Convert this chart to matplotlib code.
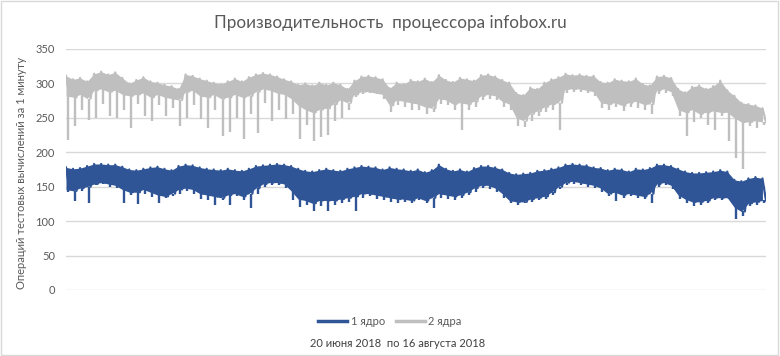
import numpy as np
import matplotlib
matplotlib.use('Agg')
import matplotlib.pyplot as plt
from matplotlib.patches import Rectangle

plt.rcParams['font.family'] = ['Lato', 'DejaVu Sans']

# 2 cores, read per sample group: top of band, bottom of solid band, lowest drop
two_hi = [311, 306, 308, 303, 314, 317, 313, 316, 308, 300,
          305, 309, 303, 301, 298, 296, 292, 313, 311, 307,
          304, 301, 299, 303, 307, 303, 309, 313, 315, 313,
          310, 306, 303, 298, 300, 297, 301, 298, 301, 298,
          292, 304, 310, 311, 309, 306, 293, 301, 299, 305,
          303, 307, 302, 312, 305, 302, 308, 306, 304, 312,
          313, 310, 305, 301, 286, 283, 294, 292, 301, 306,
          309, 314, 312, 313, 311, 311, 302, 301, 306, 304,
          303, 307, 299, 297, 310, 311, 308, 292, 287, 295,
          297, 292, 296, 304, 290, 282, 272, 270, 268, 264]
two_lo = [282, 280, 284, 278, 290, 292, 288, 290, 284, 282,
          284, 286, 280, 284, 280, 278, 276, 288, 290, 282,
          280, 284, 278, 280, 284, 280, 282, 288, 292, 290,
          286, 284, 278, 268, 262, 258, 262, 264, 270, 276,
          272, 284, 288, 288, 286, 284, 268, 276, 274, 272,
          270, 266, 264, 278, 276, 270, 272, 270, 274, 282,
          284, 282, 274, 270, 250, 246, 256, 260, 266, 270,
          272, 292, 292, 292, 290, 288, 272, 270, 272, 268,
          272, 274, 270, 270, 290, 292, 288, 262, 258, 262,
          256, 258, 260, 258, 258, 250, 244, 244, 246, 244]
two_min = [218, 238, 262, 247, 250, 270, 252, 250, 262, 235,
           270, 252, 245, 268, 252, 265, 238, 250, 268, 248,
           235, 262, 223, 230, 250, 220, 255, 228, 272, 245,
           262, 248, 255, 220, 240, 216, 222, 225, 245, 250,
           262, 280, 284, 286, 284, 278, 258, 268, 266, 262,
           262, 256, 258, 270, 268, 262, 232, 262, 266, 276,
           278, 276, 266, 262, 238, 236, 246, 252, 258, 262,
           233, 286, 288, 288, 286, 282, 264, 262, 266, 260,
           266, 264, 262, 255, 284, 286, 282, 252, 223, 244,
           250, 240, 233, 252, 216, 191, 176, 238, 235, 240]

# 1 core
one_hi = [178, 176, 177, 180, 183, 183, 182, 182, 179, 175,
          174, 176, 178, 179, 176, 174, 180, 182, 181, 178,
          176, 175, 174, 176, 174, 173, 176, 180, 181, 182,
          183, 182, 180, 176, 173, 172, 174, 176, 174, 173,
          176, 178, 180, 179, 178, 175, 178, 176, 175, 173,
          175, 171, 174, 182, 176, 173, 175, 172, 177, 180,
          180, 178, 175, 170, 168, 169, 170, 173, 174, 176,
          178, 182, 183, 182, 181, 178, 177, 174, 176, 175,
          172, 176, 175, 177, 182, 182, 180, 176, 172, 170,
          170, 171, 172, 174, 172, 160, 158, 162, 164, 162]
one_lo = [146, 144, 148, 150, 154, 156, 154, 152, 146, 142,
          142, 146, 142, 138, 136, 140, 146, 148, 146, 140,
          138, 136, 134, 138, 140, 136, 140, 148, 154, 156,
          156, 154, 144, 132, 130, 126, 130, 130, 130, 132,
          134, 136, 140, 140, 138, 136, 134, 132, 132, 130,
          134, 130, 134, 140, 138, 136, 138, 142, 148, 152,
          152, 148, 140, 130, 128, 128, 132, 134, 136, 142,
          150, 156, 158, 156, 154, 152, 148, 140, 142, 138,
          140, 138, 136, 140, 154, 156, 152, 138, 132, 128,
          128, 130, 134, 134, 134, 120, 114, 126, 128, 130]
one_min = [143, 129, 144, 127, 152, 154, 150, 148, 126, 138,
           125, 140, 135, 127, 134, 136, 140, 144, 140, 132,
           130, 124, 130, 124, 136, 130, 119, 140, 150, 152,
           152, 148, 130, 120, 124, 114, 122, 114, 124, 126,
           128, 115, 134, 136, 132, 130, 128, 126, 128, 126,
           130, 126, 119, 134, 132, 130, 134, 138, 142, 148,
           146, 142, 134, 126, 124, 126, 128, 130, 132, 138,
           146, 152, 154, 152, 150, 148, 142, 136, 129, 134,
           136, 134, 132, 126, 150, 152, 146, 132, 126, 122,
           124, 126, 130, 130, 132, 103, 108, 122, 124, 126]

names = ['1 ядро', '2 ядра']
colors = ['#2F5597', '#BFBFBF']

fig = plt.figure(figsize=(7.8, 3.56), dpi=100)
ax = fig.add_axes([0.0846, 0.1854, 0.8974, 0.677])

x = np.arange(len(two_hi))
series = [(one_hi, one_lo, one_min, names[0], colors[0]),
          (two_hi, two_lo, two_min, names[1], colors[1])]
for hi, lo, mn, name, col in series:
    ax.fill_between(x, lo, hi, color=col, lw=0)
    xs = np.column_stack([x, x + 0.5]).ravel()
    ys = np.column_stack([hi, lo]).ravel()
    ax.plot(xs, ys, color=col, lw=1.6, label=name)
    # drops below the solid band
    ax.vlines(x + 0.25, mn, lo, color=col, lw=1.7)

ax.set_xlim(0, 99.5)
ax.set_ylim(0, 350)
ax.set_yticks(range(0, 351, 50))
ax.set_xticks([])
ax.grid(axis='y', color='#D9D9D9', lw=1)
ax.set_axisbelow(True)
for s in ax.spines.values():
    s.set_visible(False)
ax.tick_params(axis='y', length=0, labelsize=8, labelcolor='#595959', pad=8)

fig.text(0.5, 0.935, 'Производительность  процессора infobox.ru',
         ha='center', va='center', fontsize=12.3, color='#595959')
fig.text(0.028, 0.515, 'Операций тестовых вычислений за 1 минуту', rotation=90,
         ha='center', va='center', fontsize=8, color='#595959')
fig.text(0.51, 0.036, '20 июня 2018  по 16 августа 2018',
         ha='center', va='center', fontsize=8, color='#404040')

leg = ax.legend(loc='center', bbox_to_anchor=(0.5, 0.098), bbox_transform=fig.transFigure,
                ncol=2, frameon=False, fontsize=8, handlelength=2.6, handletextpad=0.3,
                columnspacing=1.0, labelcolor='#595959')
for line in leg.get_lines():
    line.set_linewidth(2.5)

fig.add_artist(Rectangle((0.001, 0.002), 0.997, 0.995, transform=fig.transFigure,
                         fill=False, edgecolor='#D9D9D9', lw=1))

fig.savefig('out.png', dpi=100)
